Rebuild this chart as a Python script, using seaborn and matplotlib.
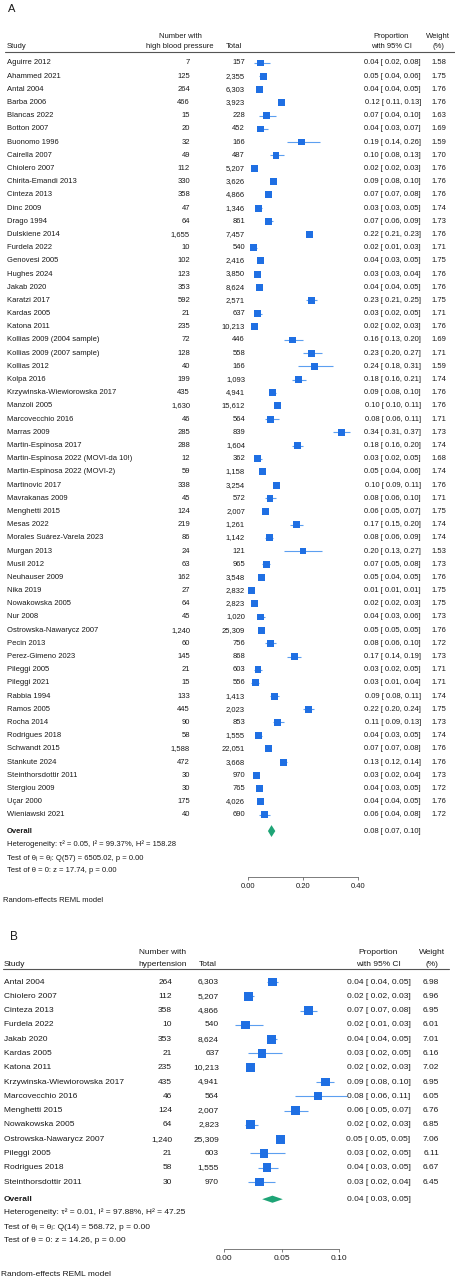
import numpy as np
import pandas as pd
import matplotlib
matplotlib.use("Agg")
import matplotlib.pyplot as plt
import matplotlib.transforms as mtransforms
from matplotlib.lines import Line2D
import seaborn as sns

#Panel A : high blood pressure
studies_a = ["Aguirre 2012", "Ahammed 2021", "Antal 2004", "Barba 2006", "Blancas 2022",
             "Botton 2007", "Buonomo 1996", "Cairella 2007", "Chiolero 2007", "Chirita-Emandi 2013",
             "Cinteza 2013", "Dinc 2009", "Drago 1994", "Dulskiene 2014", "Furdela 2022",
             "Genovesi 2005", "Hughes 2024", "Jakab 2020", "Karatzi 2017", "Kardas 2005",
             "Katona 2011", "Kollias 2009 (2004 sample)", "Kollias 2009 (2007 sample)", "Kollias 2012",
             "Kolpa 2016", "Krzywinska-Wiewiorowska 2017", "Manzoli 2005", "Marcovecchio 2016",
             "Marras 2009", "Martin-Espinosa 2017", "Martin-Espinosa 2022 (MOVI-da 10!)",
             "Martin-Espinosa 2022 (MOVI-2)", "Martinovic 2017", "Mavrakanas 2009", "Menghetti 2015",
             "Mesas 2022", "Morales Suárez-Varela 2023", "Murgan 2013", "Musil 2012", "Neuhauser 2009",
             "Nika 2019", "Nowakowska 2005", "Nur 2008", "Ostrowska-Nawarycz 2007", "Pecin 2013",
             "Perez-Gimeno 2023", "Pileggi 2005", "Pileggi 2021", "Rabbia 1994", "Ramos 2005",
             "Rocha 2014", "Rodrigues 2018", "Schwandt 2015", "Stankute 2024", "Steinthorsdottir 2011",
             "Stergiou 2009", "Uçar 2000", "Wieniawski 2021"]
events_a = [7, 125, 264, 466, 15, 20, 32, 49, 112, 330,
            358, 47, 64, 1655, 10, 102, 123, 353, 592, 21,
            235, 72, 128, 40, 199, 435, 1630, 46, 285, 288,
            12, 59, 338, 45, 124, 219, 86, 24, 63, 162,
            27, 64, 45, 1240, 60, 145, 21, 15, 133, 445,
            90, 58, 1588, 472, 30, 30, 175, 40]
totals_a = [157, 2355, 6303, 3923, 228, 452, 166, 487, 5207, 3626,
            4866, 1346, 861, 7457, 540, 2416, 3850, 8624, 2571, 637,
            10213, 446, 558, 166, 1093, 4941, 15612, 564, 839, 1604,
            362, 1158, 3254, 572, 2007, 1261, 1142, 121, 965, 3548,
            2832, 2823, 1020, 25309, 756, 868, 603, 556, 1413, 2023,
            853, 1555, 22051, 3668, 970, 765, 4026, 690]
prop_a = [0.0446, 0.0531, 0.0419, 0.1188, 0.0658, 0.0442, 0.1928, 0.1006, 0.0215, 0.0910,
          0.0736, 0.0349, 0.0743, 0.2219, 0.0185, 0.0422, 0.0319, 0.0409, 0.2303, 0.0330,
          0.0230, 0.1614, 0.2294, 0.2410, 0.1821, 0.0880, 0.1044, 0.0816, 0.3397, 0.1796,
          0.0331, 0.0509, 0.1039, 0.0787, 0.0618, 0.1737, 0.0753, 0.1983, 0.0653, 0.0457,
          0.0095, 0.0227, 0.0441, 0.0490, 0.0794, 0.1671, 0.0348, 0.0270, 0.0941, 0.2200,
          0.1055, 0.0373, 0.0720, 0.1287, 0.0309, 0.0392, 0.0435, 0.0580]
lo_a = [0.02, 0.04, 0.04, 0.11, 0.04, 0.03, 0.14, 0.08, 0.02, 0.08,
        0.07, 0.03, 0.06, 0.21, 0.01, 0.03, 0.03, 0.04, 0.21, 0.02,
        0.02, 0.13, 0.20, 0.18, 0.16, 0.08, 0.10, 0.06, 0.31, 0.16,
        0.02, 0.04, 0.09, 0.06, 0.05, 0.15, 0.06, 0.13, 0.05, 0.04,
        0.01, 0.02, 0.03, 0.05, 0.06, 0.14, 0.02, 0.01, 0.08, 0.20,
        0.09, 0.03, 0.07, 0.12, 0.02, 0.03, 0.04, 0.04]
hi_a = [0.08, 0.06, 0.05, 0.13, 0.10, 0.07, 0.26, 0.13, 0.03, 0.10,
        0.08, 0.05, 0.09, 0.23, 0.03, 0.05, 0.04, 0.05, 0.25, 0.05,
        0.03, 0.20, 0.27, 0.31, 0.21, 0.10, 0.11, 0.11, 0.37, 0.20,
        0.05, 0.06, 0.11, 0.10, 0.07, 0.20, 0.09, 0.27, 0.08, 0.05,
        0.01, 0.03, 0.06, 0.05, 0.10, 0.19, 0.05, 0.04, 0.11, 0.24,
        0.13, 0.05, 0.08, 0.14, 0.04, 0.05, 0.05, 0.08]
weight_a = [1.58, 1.75, 1.76, 1.76, 1.63, 1.69, 1.59, 1.70, 1.76, 1.76,
            1.76, 1.74, 1.73, 1.76, 1.71, 1.75, 1.76, 1.76, 1.75, 1.71,
            1.76, 1.69, 1.71, 1.59, 1.74, 1.76, 1.76, 1.71, 1.73, 1.74,
            1.68, 1.74, 1.76, 1.71, 1.75, 1.74, 1.74, 1.53, 1.73, 1.76,
            1.75, 1.75, 1.73, 1.76, 1.72, 1.73, 1.71, 1.71, 1.74, 1.75,
            1.73, 1.74, 1.76, 1.76, 1.73, 1.72, 1.76, 1.72]
overall_a = (0.084, 0.071, 0.098)
stats_a = ["Heterogeneity: τ² = 0.05, I² = 99.37%, H² = 158.28",
           "Test of θᵢ = θⱼ: Q(57) = 6505.02, p = 0.00",
           "Test of θ = 0: z = 17.74, p = 0.00"]
ticks_a = [0.0, 0.2, 0.4]

#Panel B : hypertension
studies_b = ["Antal 2004", "Chiolero 2007", "Cinteza 2013", "Furdela 2022", "Jakab 2020",
             "Kardas 2005", "Katona 2011", "Krzywinska-Wiewiorowska 2017", "Marcovecchio 2016",
             "Menghetti 2015", "Nowakowska 2005", "Ostrowska-Nawarycz 2007", "Pileggi 2005",
             "Rodrigues 2018", "Steinthorsdottir 2011"]
events_b = [264, 112, 358, 10, 353, 21, 235, 435, 46, 124, 64, 1240, 21, 58, 30]
totals_b = [6303, 5207, 4866, 540, 8624, 637, 10213, 4941, 564, 2007, 2823, 25309, 603, 1555, 970]
prop_b = [0.0419, 0.0215, 0.0736, 0.0185, 0.0409, 0.0330, 0.0230, 0.0880, 0.0816, 0.0618,
          0.0227, 0.0490, 0.0348, 0.0373, 0.0309]
lo_b = [0.037, 0.018, 0.066, 0.009, 0.037, 0.021, 0.020, 0.080, 0.062, 0.052,
        0.018, 0.046, 0.022, 0.029, 0.021]
hi_b = [0.047, 0.026, 0.081, 0.034, 0.046, 0.050, 0.026, 0.096, 0.107, 0.073,
        0.029, 0.052, 0.053, 0.047, 0.044]
weight_b = [6.98, 6.96, 6.95, 6.01, 7.01, 6.16, 7.02, 6.95, 6.05, 6.76, 6.85, 7.06, 6.11, 6.67, 6.45]
overall_b = (0.042, 0.033, 0.051)
stats_b = ["Heterogeneity: τ² = 0.01, I² = 97.88%, H² = 47.25",
           "Test of θᵢ = θⱼ: Q(14) = 568.72, p = 0.00",
           "Test of θ = 0: z = 14.26, p = 0.00"]
ticks_b = [0.0, 0.05, 0.10]

W, H = 455, 1280
SQ_COL = "#1f6fe3"
CI_COL = "#5c9ff0"
DIA_COL = "#1ea476"
TXT = "#1a1a1a"
FONTS = ["Liberation Sans", "DejaVu Sans"]

sns.set_theme(style="white")
plt.rcParams["font.family"] = FONTS


def fig_text(fig, x, y, s, fs, **kw):
    fig.text(x / W, 1 - y / H, s, fontsize=fs, color=TXT, va="center", **kw)


#Draw one forest panel
def forest(fig, df, overall, stats, ticks, header, lay):
    fs = lay["fs"]
    row0, step = lay["row0"], lay["step"]
    x0, x1 = lay["xpx"]
    ax = fig.add_axes([x0 / W, 1 - lay["bottom"] / H, (x1 - x0) / W, (lay["bottom"] - lay["top"]) / H])
    ax.set_xlim(ticks[0], ticks[-1])
    ax.set_ylim((lay["bottom"] - row0) / step, (lay["top"] - row0) / step)
    ax.patch.set_visible(False)

    df = df.assign(row=np.arange(len(df)))
    ax.hlines(df["row"], df["lo"], df["hi"], color=CI_COL, lw=0.8, zorder=2, clip_on=False)
    wmin, wmax = df["weight"].min(), df["weight"].max()
    sns.scatterplot(data=df, x="prop", y="row", size="weight", size_norm=(wmin, wmax),
                    sizes=(lay["k"] * wmin, lay["k"] * wmax), marker="s", color=SQ_COL,
                    linewidth=0, legend=False, ax=ax, zorder=3, clip_on=False)

    est, lo, hi = overall
    r = len(df) + lay["ovr"]
    ax.fill([lo, est, hi, est], [r, r - lay["dh"], r, r + lay["dh"]], color=DIA_COL, lw=0,
            clip_on=False, zorder=3)

    sns.despine(ax=ax, left=True)
    ax.set_yticks([])
    ax.set_xticks(ticks)
    ax.set_xticklabels([f"{t:.2f}" for t in ticks])
    ax.set_xlabel("")
    ax.set_ylabel("")
    ax.spines["bottom"].set_color("#666666")
    ax.spines["bottom"].set_linewidth(0.6)
    ax.tick_params(axis="x", length=2.5, width=0.6, color="#666666", labelsize=fs, pad=2,
                   labelcolor=TXT, bottom=True)

    tr = mtransforms.blended_transform_factory(fig.transFigure, ax.transData)
    c = lay["cols"]
    opts = dict(transform=tr, va="center", fontsize=fs, color=TXT)
    for _, s in df.iterrows():
        y = s["row"]
        ax.text(c["study"] / W, y, s["study"], ha="left", **opts)
        ax.text(c["n"] / W, y, f"{int(s['n']):,}", ha="right", **opts)
        ax.text(c["total"] / W, y, f"{int(s['total']):,}", ha="right", **opts)
        ax.text(c["ci"] / W, y, f"{s['prop']:.2f} [ {s['lo']:.2f}, {s['hi']:.2f}]", ha="right", **opts)
        ax.text(c["w"] / W, y, f"{s['weight']:.2f}", ha="right", **opts)
    ax.text(c["study"] / W, r, "Overall", ha="left", fontweight="bold", **opts)
    ax.text(c["ci"] / W, r, f"{est:.2f} [ {lo:.2f}, {hi:.2f}]", ha="right", **opts)

    #Header
    hy1, hy2, ly = lay["head_y"]
    fig_text(fig, c["study"], hy2, "Study", fs, ha="left")
    fig_text(fig, c["nh"], hy1, "Number with", fs, ha="center")
    fig_text(fig, c["nh"], hy2, header, fs, ha="center")
    fig_text(fig, c["th"], hy2, "Total", fs, ha="left")
    fig_text(fig, c["ch"], hy1, "Proportion", fs, ha="center")
    fig_text(fig, c["ch"], hy2, "with 95% CI", fs, ha="center")
    fig_text(fig, c["wh"], hy1, "Weight", fs, ha="center")
    fig_text(fig, c["wh"], hy2, "(%)", fs, ha="center")
    lx0, lx1 = lay["line_x"]
    fig.add_artist(Line2D([lx0 / W, lx1 / W], [1 - ly / H, 1 - ly / H], transform=fig.transFigure,
                          color="#555555", lw=0.8))

    #Footer
    for s, yy in zip(stats, lay["stats_y"]):
        fig_text(fig, c["study"], yy, s, fs, ha="left")
    fig_text(fig, lay["note"][0], lay["note"][1], "Random-effects REML model", fs, ha="left")
    fig_text(fig, lay["tag"][0], lay["tag"][1], lay["tag"][2], lay["tag"][3], ha="left")
    return ax


df_a = pd.DataFrame({"study": studies_a, "n": events_a, "total": totals_a, "prop": prop_a,
                     "lo": lo_a, "hi": hi_a, "weight": weight_a})
df_b = pd.DataFrame({"study": studies_b, "n": events_b, "total": totals_b, "prop": prop_b,
                     "lo": lo_b, "hi": hi_b, "weight": weight_b})

lay_a = dict(fs=5.5, row0=63, step=13.19, top=55, bottom=877, xpx=(248.5, 358), k=14.4,
             ovr=0.23, dh=0.45,
             cols=dict(study=7, n=190, total=245, ci=421, w=446, nh=180, th=226, ch=391, wh=438),
             head_y=(36, 47, 52), line_x=(5, 455), stats_y=(844.5, 858, 871),
             note=(3, 900), tag=(8, 9, "A", 8))
lay_b = dict(fs=6, row0=982, step=14.29, top=975, bottom=1249, xpx=(224.3, 339), k=5.95,
             ovr=0.2, dh=0.25,
             cols=dict(study=4, n=172, total=219, ci=410.5, w=439, nh=163, th=199, ch=378, wh=432),
             head_y=(952, 964, 969), line_x=(3, 449), stats_y=(1212.5, 1227.5, 1241),
             note=(1, 1275), tag=(10, 937, "B", 8.5))

fig = plt.figure(figsize=(W / 100, H / 100), dpi=100)
forest(fig, df_a, overall_a, stats_a, ticks_a, "high blood pressure", lay_a)
forest(fig, df_b, overall_b, stats_b, ticks_b, "hypertension", lay_b)
fig.savefig("out.png", dpi=100, facecolor="white")
